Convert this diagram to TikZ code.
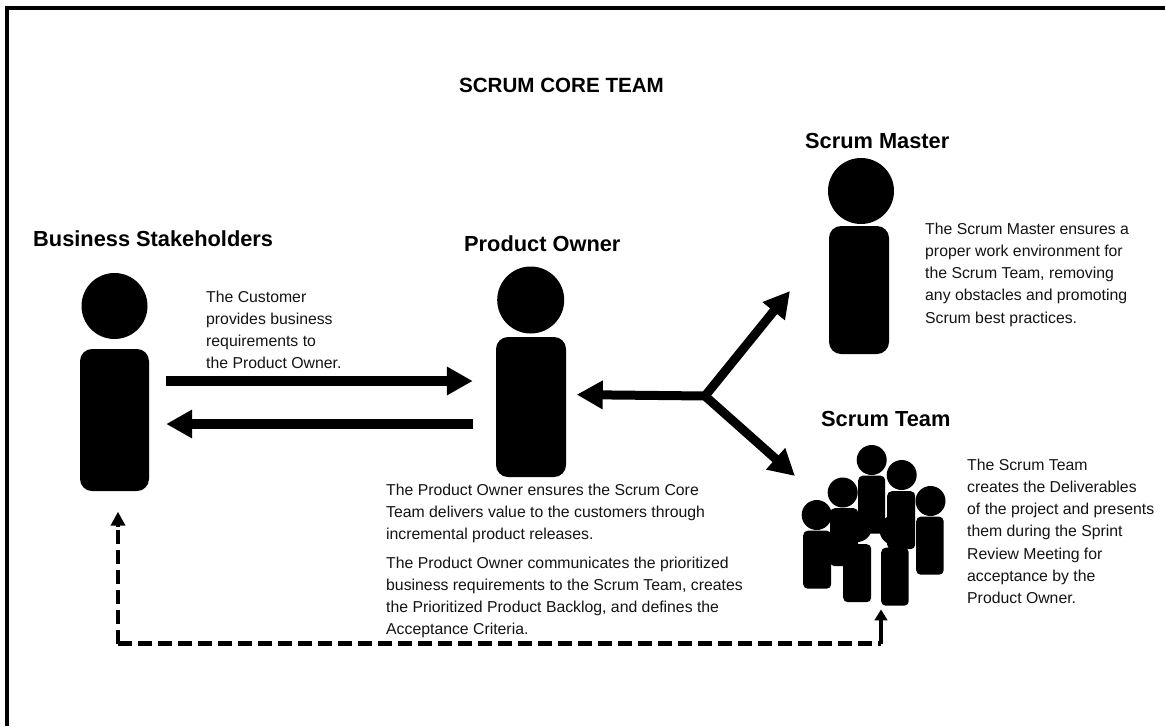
\documentclass[tikz,border=0pt]{standalone}
\usepackage{fontspec}
\setmainfont{Liberation Sans}
\usetikzlibrary{arrows.meta,calc}
\newcommand{\bodyfont}{\fontsize{15.8}{22.2}\selectfont}
\tikzset{
  x=1pt,y=-1pt,
  headc/.style={circle,fill=black,draw=none,inner sep=0pt,minimum size=#1},
  bodyr/.style={rectangle,fill=black,draw=none,inner sep=0pt,rounded corners=#1},
  bigarrow/.style={line width=#1,draw=black,-{Triangle[length=26pt,width=27pt]}},
  dashline/.style={line width=4.4pt,draw=black,dash pattern=on 14pt off 6pt},
  desc/.style={anchor=north west,align=left,inner sep=0pt,text=black!92,font=\bodyfont},
  headingt/.style={anchor=base west,inner sep=0pt,font=\fontsize{21.8}{26}\selectfont\bfseries,text=black},
}
\begin{document}
\begin{tikzpicture}
\useasboundingbox (0,0) rectangle (1165,726);
\fill[white] (0,0) rectangle (1165,726);
% frame: top and left only
\fill[black] (5,6) rectangle (1165,10);
\fill[black] (5,6) rectangle (9,726);

\node[anchor=base,inner sep=0pt,font=\fontsize{20.6}{24}\selectfont\bfseries] (title) at (561.5,92) {SCRUM CORE TEAM};

% Business Stakeholders
\node[headc=66pt] (bshead) at (114.5,306) {};
\node[bodyr=12pt,minimum width=69pt,minimum height=142pt] (bsbody) at (114.5,420) {};
\node[headingt] (bstitle) at (33,246) {Business Stakeholders};
% Product Owner
\node[headc=67pt] (pohead) at (530.7,300) {};
\node[bodyr=12pt,minimum width=70pt,minimum height=140pt] (pobody) at (531,407) {};
\node[headingt] (potitle) at (464,251) {Product Owner};
% Scrum Master
\node[headc=66pt] (smhead) at (861,191) {};
\node[bodyr=12pt,minimum width=60pt,minimum height=128pt] (smbody) at (859,290) {};
\node[headingt] (smtitle) at (805,148) {Scrum Master};
% Scrum Team
\node[headingt] (sttitle) at (821,426) {Scrum Team};
\foreach \nm/\hx/\hy/\bl/\bt/\bw in {
  a/871.7/460/858/475.5/27,
  b/901.7/475/887/491/28,
  c/930.5/501/916/516.5/27.5,
  d/842.7/492.5/830/508/28,
  e/816.7/515/803/530.5/28,
  f/857/527/843/544/28,
  g/894.5/530/881/547.5/27.5}{
  \node[headc=30pt] (head\nm) at (\hx,\hy) {};
  \node[bodyr=4.5pt,anchor=north west,minimum width=\bw pt,minimum height=58pt] (body\nm) at (\bl,\bt) {};
}

% texts
\node[desc] (t1) at (206,290.7) {The Customer\\provides business\\requirements to\\the Product Owner.};
\node[desc] (t2) at (386,483.7) {The Product Owner ensures the Scrum Core\\Team delivers value to the customers through\\incremental product releases.};
\node[desc] (t3) at (386,556.7) {The Product Owner communicates the prioritized\\business requirements to the Scrum Team, creates\\the Prioritized Product Backlog, and defines the\\Acceptance Criteria.};
\node[desc] (t4) at (925,222.7) {The Scrum Master ensures a\\proper work environment for\\the Scrum Team, removing\\any obstacles and promoting\\Scrum best practices.};
\node[desc] (t5) at (967,458.7) {The Scrum Team\\creates the Deliverables\\of the project and presents\\them during the Sprint\\Review Meeting for\\acceptance by the\\Product Owner.};

% connectors
\coordinate (yfwd) at (0,381);
\coordinate (ybck) at (0,424);
\draw[bigarrow=10pt,shorten <=17pt,shorten >=23pt] (bsbody.east |- yfwd) -- (pobody.west |- yfwd);
\draw[bigarrow=10pt,shorten <=23pt,shorten >=17pt] (pobody.west |- ybck) -- (bsbody.east |- ybck);
\coordinate (hub) at (705,396);
\coordinate (ypo) at (0,394.5);
\coordinate (smtip) at (790,291);
\coordinate (sttip) at (795,476);
\draw[bigarrow=9pt,shorten >=10.5pt,line cap=round] (hub) -- (pobody.east |- ypo);
\draw[bigarrow=9pt,line cap=round] (hub) -- (smtip);
\draw[bigarrow=9pt,line cap=round] (hub) -- (sttip);
% dashed
\coordinate (bsdash) at (118,643.5);
\coordinate (stdash) at (881,643.5);
\draw[dashline] (bsdash) -- ($(bsbody.south -| bsdash)+(0,35)$);
\draw[-{Triangle[length=14pt,width=14pt]},draw=black,line width=4.4pt] ($(bsbody.south -| bsdash)+(0,36)$) -- ($(bsbody.south -| bsdash)+(0,20.5)$);
\draw[dashline] (bsdash) -- (stdash);
\draw[line width=4.4pt,shorten >=3.5pt,-{Triangle[length=11pt,width=12.5pt]}] (stdash) -- (bodyg.south -| stdash);
\end{tikzpicture}
\end{document}
